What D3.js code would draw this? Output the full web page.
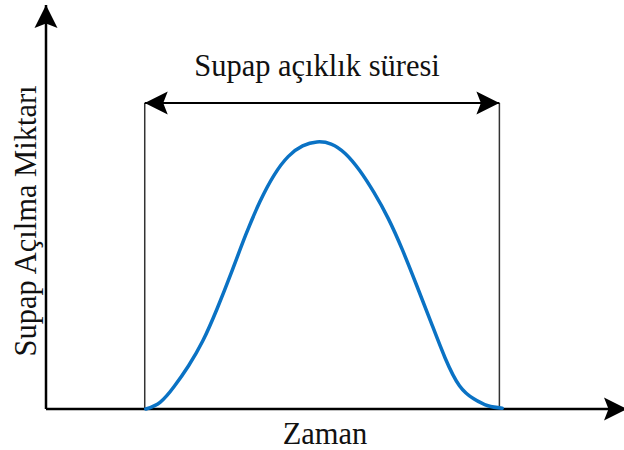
<!DOCTYPE html>
<html>
<head>
<meta charset="utf-8">
<script src="https://cdn.jsdelivr.net/npm/d3@7"></script>
<style>
  html, body { margin: 0; padding: 0; background: #fff; }
  svg { display: block; }
  text { font-family: "Liberation Serif", "Times New Roman", serif; fill: #111; }
</style>
</head>
<body>
<script>
// Valve lift profile over time (arbitrary units), sampled every 4 time units
const timeValues = [28, 32, 36, 40, 44, 48, 52, 56, 60, 64, 68, 72, 76,
                    80, 84, 88, 92, 96, 100, 104, 108, 112, 116, 120, 124, 128];
const liftValues = [0.0, 0.25, 0.85, 1.62, 2.55, 3.75, 5.10, 6.50, 7.75, 8.75, 9.45, 9.84, 9.99,
                    9.91, 9.55, 8.92, 8.10, 7.13, 5.95, 4.62, 3.25, 1.90, 0.87, 0.38, 0.12, 0.03];
// Start and end of the valve opening period
const openingWindow = [27.7, 127.2];
const titleText = "Supap açıklık süresi";
const xLabel = "Zaman";
const yLabel = "Supap Açılma Miktarı";

const width = 624, height = 450;
const svg = d3.select("body").append("svg")
  .attr("width", width).attr("height", height);

const x = d3.scaleLinear().domain([0, 163]).range([46, 627]);
const y = d3.scaleLinear().domain([0, 15]).range([409, 8]);

// Concave arrowhead used on the axes and the duration arrow
const defs = svg.append("defs");
defs.append("marker")
  .attr("id", "head")
  .attr("markerUnits", "userSpaceOnUse")
  .attr("viewBox", "-24 -12 26 24")
  .attr("refX", 0).attr("refY", 0)
  .attr("markerWidth", 26).attr("markerHeight", 24)
  .attr("orient", "auto-start-reverse")
  .append("path")
  .attr("d", "M0,0 L-23,-11.5 L-18.5,0 L-23,11.5 Z")
  .attr("fill", "#000");

const [x0, x1] = x.range();
const [y0, y1] = y.range();

// Axes
svg.append("line")
  .attr("x1", x0).attr("y1", y0).attr("x2", x0).attr("y2", y1 - 3)
  .attr("stroke", "#000").attr("stroke-width", 2.5)
  .attr("marker-end", "url(#head)");
svg.append("line")
  .attr("x1", x0).attr("y1", y0).attr("x2", x1).attr("y2", y0)
  .attr("stroke", "#000").attr("stroke-width", 2.5)
  .attr("marker-end", "url(#head)");

// Opening period boundaries
const arrowY = 103;
openingWindow.forEach(t => {
  svg.append("line")
    .attr("x1", x(t)).attr("x2", x(t))
    .attr("y1", arrowY).attr("y2", y0)
    .attr("stroke", "#333").attr("stroke-width", 1.5);
});

// Duration arrow
svg.append("line")
  .attr("x1", x(openingWindow[0])).attr("x2", x(openingWindow[1]))
  .attr("y1", arrowY).attr("y2", arrowY)
  .attr("stroke", "#000").attr("stroke-width", 2)
  .attr("marker-start", "url(#head)")
  .attr("marker-end", "url(#head)");

// Lift curve
const line = d3.line()
  .x((d, i) => x(timeValues[i]))
  .y(d => y(d))
  .curve(d3.curveNatural);
svg.append("path")
  .attr("d", line(liftValues))
  .attr("fill", "none")
  .attr("stroke", "#0a72c4")
  .attr("stroke-width", 3.5)
  .attr("stroke-linecap", "round")
  .attr("stroke-linejoin", "round");

// Text
svg.append("text")
  .attr("x", 317).attr("y", 76)
  .attr("text-anchor", "middle")
  .attr("font-size", 30.5)
  .text(titleText);

svg.append("text")
  .attr("x", 325).attr("y", 444)
  .attr("text-anchor", "middle")
  .attr("font-size", 30.5)
  .text(xLabel);

svg.append("text")
  .attr("transform", "translate(36,221) rotate(-90)")
  .attr("text-anchor", "middle")
  .attr("font-size", 30.5)
  .text(yLabel);
</script>
</body>
</html>
